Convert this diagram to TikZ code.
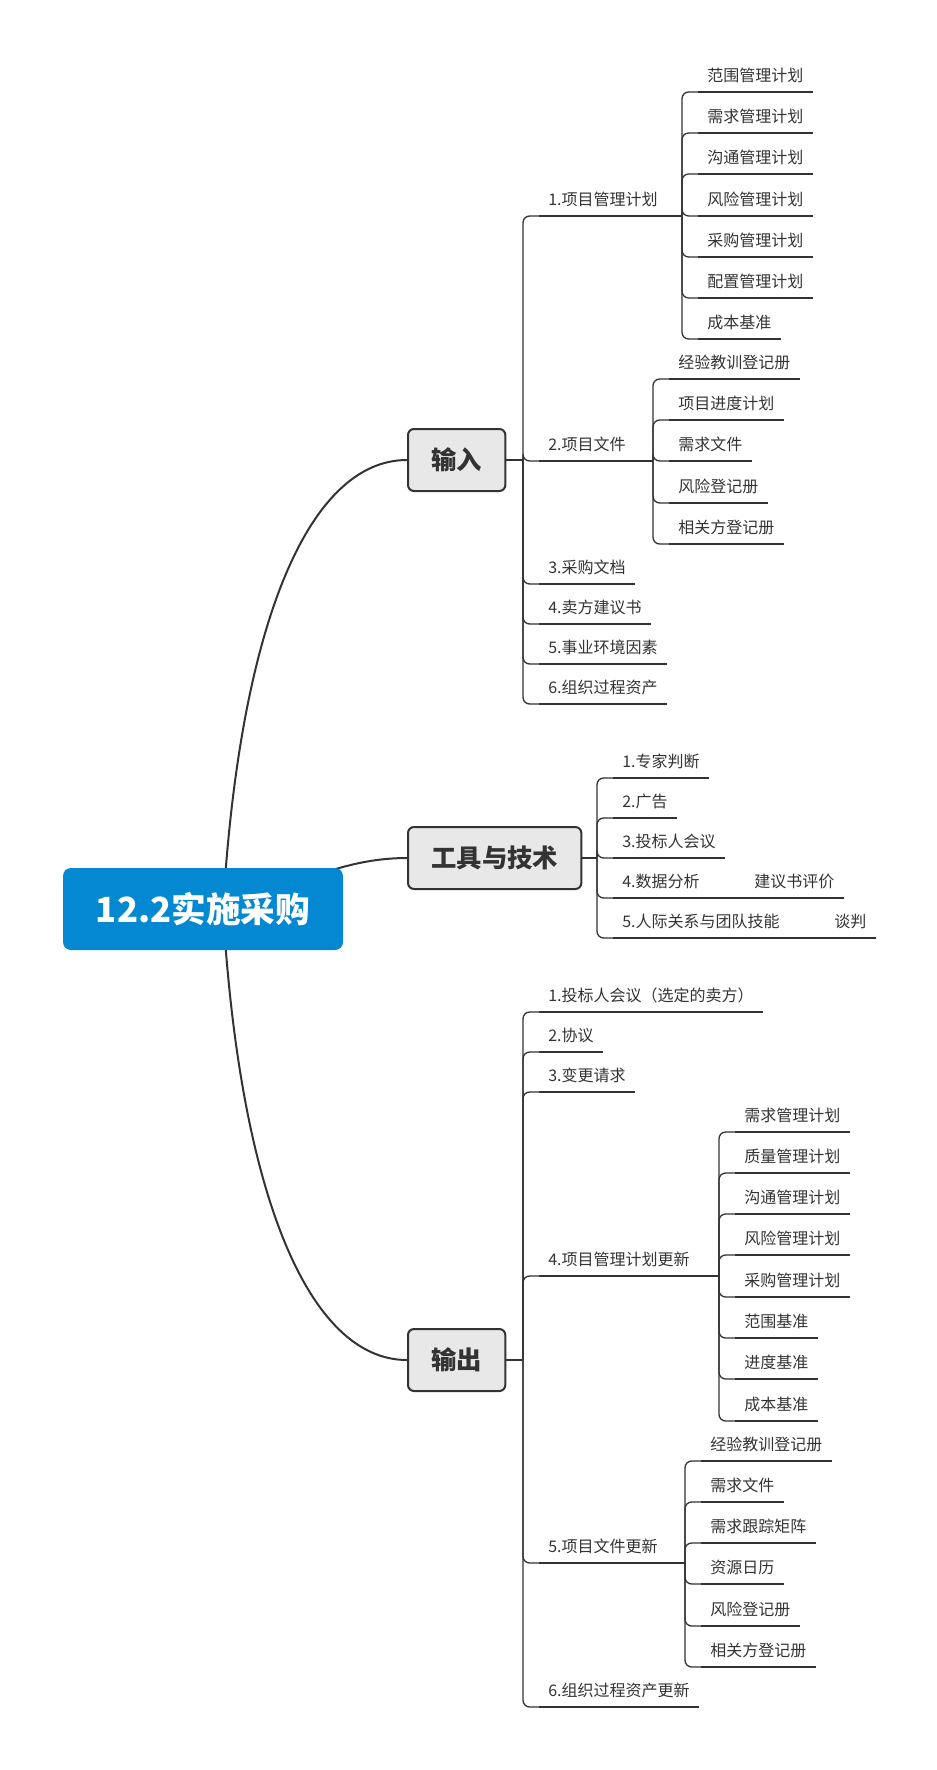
\documentclass[tikz,border=0pt]{standalone}
\usepackage{xcolor}
\usepackage{fontspec}
\usepackage{tikz}
\newfontfamily\cjk{Noto Sans CJK SC}
\definecolor{rootblue}{HTML}{0388D1}
\definecolor{boxgray}{HTML}{E8E8E8}
\definecolor{linegray}{HTML}{333333}

\begin{document}
\begin{tikzpicture}[x=0.75pt, y=-0.75pt, font=\cjk,
    root/.style={rectangle, rounded corners=6pt, fill=rootblue, text=white, font=\cjk\bfseries\fontsize{26pt}{30pt}\selectfont, minimum width=210pt, minimum height=61.5pt},
    main/.style={rectangle, rounded corners=4.5pt, fill=boxgray, draw=linegray, line width=1.5pt, text=linegray, font=\cjk\bfseries\fontsize{19pt}{22pt}\selectfont, minimum height=46.5pt, inner xsep=17.5pt, anchor=west},
    topic/.style={anchor=south west, inner xsep=6.75pt, inner ysep=5pt, text depth=3pt, text=linegray, font=\cjk\fontsize{12pt}{14pt}\selectfont},
    uline/.style={line width=1.5pt, linegray},
    link/.style={line width=1pt, linegray, rounded corners=5pt},
    curve/.style={line width=1.5pt, linegray}]
    \useasboundingbox (0,0) rectangle (937,1770);

    \node[main] (in) at (407,460) {输入};
    \node[main] (tool) at (407,858) {工具与技术};
    \node[main] (out) at (407,1360) {输出};

    \coordinate (hub) at (223,909);
    \draw[curve] (hub) .. controls (240,620) and (310,460) .. (in.west);
    \draw[curve] (hub) .. controls (260,909) and (320,858) .. (tool.west);
    \draw[curve] (hub) .. controls (240,1198) and (310,1360) .. (out.west);
    \node[root] (root) at (203,909) {12.2实施采购};

    \node[topic] (in1) at (539,216) {1.项目管理计划};
    \node[topic] (in1a) at (698,92) {范围管理计划};
    \node[topic] (in1b) at (698,133) {需求管理计划};
    \node[topic] (in1c) at (698,174) {沟通管理计划};
    \node[topic] (in1d) at (698,216) {风险管理计划};
    \node[topic] (in1e) at (698,257) {采购管理计划};
    \node[topic] (in1f) at (698,298) {配置管理计划};
    \node[topic] (in1g) at (698,339) {成本基准};
    \node[topic] (in2) at (539,461) {2.项目文件};
    \node[topic] (in2a) at (669,379) {经验教训登记册};
    \node[topic] (in2b) at (669,420) {项目进度计划};
    \node[topic] (in2c) at (669,461) {需求文件};
    \node[topic] (in2d) at (669,503) {风险登记册};
    \node[topic] (in2e) at (669,544) {相关方登记册};
    \node[topic] (in3) at (539,584) {3.采购文档};
    \node[topic] (in4) at (539,624) {4.卖方建议书};
    \node[topic] (in5) at (539,664) {5.事业环境因素};
    \node[topic] (in6) at (539,704) {6.组织过程资产};

    \node[topic] (tool1) at (613,778) {1.专家判断};
    \node[topic] (tool2) at (613,818) {2.广告};
    \node[topic] (tool3) at (613,858) {3.投标人会议};
    \node[topic] (tool4) at (613,898) {4.数据分析};
    \node[topic] (tool5) at (613,938) {5.人际关系与团队技能};
    \node[topic] (tool4a) at (745,898) {建议书评价};
    \node[topic] (tool5a) at (825,938) {谈判};

    \node[topic] (out1) at (539,1012) {1.投标人会议（选定的卖方）};
    \node[topic] (out2) at (539,1052) {2.协议};
    \node[topic] (out3) at (539,1092) {3.变更请求};
    \node[topic] (out4) at (539,1276) {4.项目管理计划更新};
    \node[topic] (out4a) at (735,1132) {需求管理计划};
    \node[topic] (out4b) at (735,1173) {质量管理计划};
    \node[topic] (out4c) at (735,1214) {沟通管理计划};
    \node[topic] (out4d) at (735,1255) {风险管理计划};
    \node[topic] (out4e) at (735,1297) {采购管理计划};
    \node[topic] (out4f) at (735,1338) {范围基准};
    \node[topic] (out4g) at (735,1379) {进度基准};
    \node[topic] (out4h) at (735,1421) {成本基准};
    \node[topic] (out5) at (539,1563) {5.项目文件更新};
    \node[topic] (out5a) at (701,1461) {经验教训登记册};
    \node[topic] (out5b) at (701,1502) {需求文件};
    \node[topic] (out5c) at (701,1543) {需求跟踪矩阵};
    \node[topic] (out5d) at (701,1584) {资源日历};
    \node[topic] (out5e) at (701,1626) {风险登记册};
    \node[topic] (out5f) at (701,1667) {相关方登记册};
    \node[topic] (out6) at (539,1707) {6.组织过程资产更新};

    \coordinate (t-in) at (523,460);
    \coordinate (t-in1) at (682,216);
    \coordinate (t-in2) at (653,461);
    \coordinate (t-tool) at (597,858);
    \coordinate (t-out) at (523,1360);
    \coordinate (t-out4) at (719,1276);
    \coordinate (t-out5) at (685,1563);

    \draw[link] (in.east) -- (t-in);
    \foreach \n in {in1,in2,in3,in4,in5,in6} \draw[link] (t-in) |- (\n.south west);
    \draw[link] (in1.south east) -- (t-in1);
    \foreach \n in {in1a,in1b,in1c,in1d,in1e,in1f,in1g} \draw[link] (t-in1) |- (\n.south west);
    \draw[link] (in2.south east) -- (t-in2);
    \foreach \n in {in2a,in2b,in2c,in2d,in2e} \draw[link] (t-in2) |- (\n.south west);

    \draw[link] (tool.east) -- (t-tool);
    \foreach \n in {tool1,tool2,tool3,tool4,tool5} \draw[link] (t-tool) |- (\n.south west);
    \draw[link] (tool4.south east) -- (tool4a.south west);
    \draw[link] (tool5.south east) -- (tool5a.south west);

    \draw[link] (out.east) -- (t-out);
    \foreach \n in {out1,out2,out3,out4,out5,out6} \draw[link] (t-out) |- (\n.south west);
    \draw[link] (out4.south east) -- (t-out4);
    \foreach \n in {out4a,out4b,out4c,out4d,out4e,out4f,out4g,out4h} \draw[link] (t-out4) |- (\n.south west);
    \draw[link] (out5.south east) -- (t-out5);
    \foreach \n in {out5a,out5b,out5c,out5d,out5e,out5f} \draw[link] (t-out5) |- (\n.south west);

    \foreach \n in {in1,in1a,in1b,in1c,in1d,in1e,in1f,in1g,in2,in2a,in2b,in2c,in2d,in2e,in3,in4,in5,in6,
        tool1,tool2,tool3,tool4,tool5,tool4a,tool5a,
        out1,out2,out3,out4,out4a,out4b,out4c,out4d,out4e,out4f,out4g,out4h,out5,out5a,out5b,out5c,out5d,out5e,out5f,out6}
        \draw[uline] (\n.south west) -- (\n.south east);
\end{tikzpicture}
\end{document}
